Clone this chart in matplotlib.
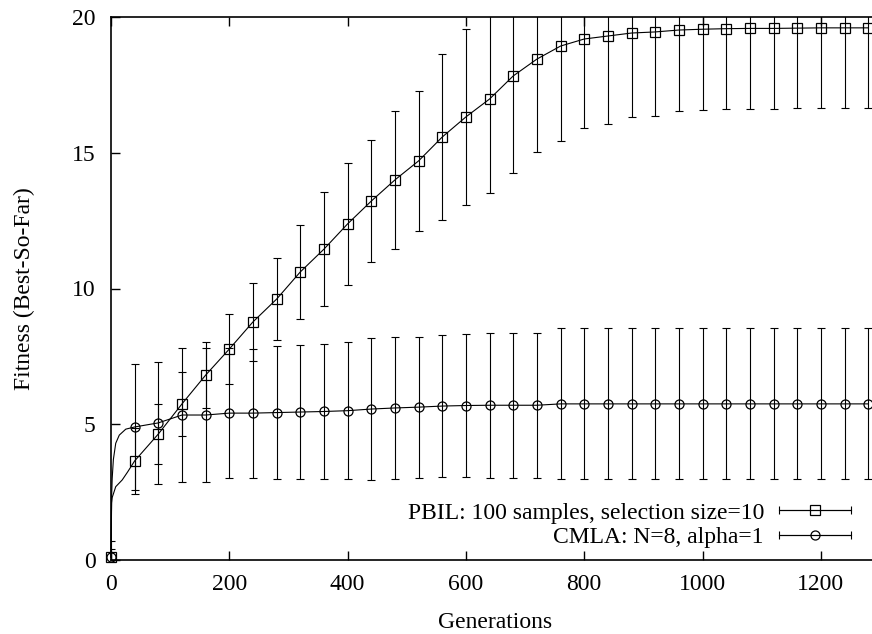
import numpy as np
import matplotlib
matplotlib.use("Agg")
import matplotlib.pyplot as plt
from matplotlib.container import ErrorbarContainer
from matplotlib.lines import Line2D
from matplotlib.collections import LineCollection
from matplotlib.legend_handler import HandlerErrorbar

# ---------------- data ----------------
generations = [0, 40, 80, 120, 160, 200, 240, 280, 320, 360, 400, 440, 480, 520,
               560, 600, 640, 680, 720, 760, 800, 840, 880, 920, 960, 1000, 1040,
               1080, 1120, 1160, 1200, 1240, 1280]

pbil_mean = [0.1, 3.65, 4.64, 5.75, 6.81, 7.77, 8.77, 9.61, 10.61, 11.45, 12.38,
             13.22, 14.0, 14.7, 15.58, 16.32, 16.98, 17.83, 18.45, 18.93, 19.19,
             19.3, 19.41, 19.45, 19.52, 19.55, 19.57, 19.58, 19.58, 19.59, 19.6,
             19.6, 19.6]
pbil_err = [0.6, 1.22, 1.1, 1.18, 1.21, 1.29, 1.44, 1.51, 1.72, 2.09, 2.25, 2.25,
            2.55, 2.57, 3.06, 3.24, 3.48, 3.58, 3.42, 3.5, 3.28, 3.24, 3.09, 3.1,
            2.98, 2.98, 2.97, 2.96, 2.96, 2.96, 2.97, 2.97, 2.97]

cmla_mean = [0.1, 4.9, 5.05, 5.34, 5.34, 5.41, 5.41, 5.43, 5.45, 5.47, 5.5, 5.56,
             5.6, 5.63, 5.67, 5.69, 5.7, 5.7, 5.7, 5.75, 5.75, 5.75, 5.75, 5.75,
             5.75, 5.75, 5.75, 5.75, 5.75, 5.75, 5.75, 5.75, 5.75]
cmla_err = [0.3, 2.32, 2.25, 2.47, 2.47, 2.4, 2.38, 2.45, 2.48, 2.48, 2.52, 2.6,
            2.6, 2.6, 2.6, 2.65, 2.67, 2.67, 2.67, 2.78, 2.78, 2.78, 2.78, 2.78,
            2.78, 2.78, 2.78, 2.78, 2.78, 2.78, 2.78, 2.78, 2.78]

# early part of the per-generation curves
pbil_early_x = [0, 1, 2, 8, 19, 28]
pbil_early_y = [0.1, 2.1, 2.3, 2.7, 2.95, 3.24]
cmla_early_x = [0, 1, 2, 4, 8, 14, 25]
cmla_early_y = [0.1, 2.3, 3.0, 3.7, 4.3, 4.6, 4.82]

pbil_label = "PBIL: 100 samples, selection size=10"
cmla_label = "CMLA: N=8, alpha=1"
x_label = "Generations"
y_label = "Fitness (Best-So-Far)"
x_ticks = [0, 200, 400, 600, 800, 1000, 1200]
y_ticks = [0, 5, 10, 15, 20]

# ---------------- style ----------------
plt.rcParams['font.family'] = ['Liberation Serif', 'DejaVu Serif']
FS = 17

W, H = 872, 634
fig = plt.figure(figsize=(W / 100, H / 100), dpi=100)
ax = fig.add_axes([111 / W, (H - 560) / H, 769 / W, 543 / H])

lw = 0.8
for gx, gy, ex, ey, mean, err, mk in [
        (generations, pbil_mean, pbil_early_x, pbil_early_y, pbil_mean, pbil_err, 's'),
        (generations, cmla_mean, cmla_early_x, cmla_early_y, cmla_mean, cmla_err, 'o')]:
    # continuous curve
    lx = list(ex) + list(gx[1:])
    ly = list(ey) + list(gy[1:])
    ax.plot(lx, ly, color='black', lw=lw, zorder=2, clip_on=False)
    # error bars + markers
    ax.errorbar(gx, mean, yerr=err, fmt='none', ecolor='black', elinewidth=lw,
                capsize=3, capthick=lw, zorder=3)
    ax.plot(gx, mean, linestyle='none', marker=mk, ms=6.5, mfc='none',
            mec='black', mew=0.9, zorder=4, clip_on=False)

ax.set_xlim(0, 1300)
ax.set_ylim(0, 20)
ax.set_xticks(x_ticks)
ax.set_yticks(y_ticks)
ax.tick_params(direction='in', length=6.5, width=1.0, labelsize=FS,
               top=True, right=False)
ax.tick_params(axis='x', pad=10)
ax.tick_params(axis='y', pad=11)
for s in ax.spines.values():
    s.set_linewidth(1.2)

ax.set_xlabel(x_label, fontsize=FS, labelpad=12)
ax.set_ylabel(y_label, fontsize=FS, labelpad=27)

# legend with horizontal error-bar samples (gnuplot style)
def proxy(marker, label):
    line = Line2D([], [], color='black', lw=lw, marker=marker, ms=6.5,
                  mfc='none', mec='black', mew=0.9)
    cap = Line2D([], [], color='black', lw=lw, marker='|', ms=6, mew=lw)
    bar = LineCollection([], colors='black', linewidths=lw)
    return ErrorbarContainer((line, (cap,), (bar,)), has_xerr=True,
                             has_yerr=False, label=label)

handles = [proxy('s', pbil_label), proxy('o', cmla_label)]
hl = 72 / (FS * 100 / 72)
leg = fig.legend(handles=handles, loc='center right',
                 bbox_to_anchor=(851 / W, 1 - 525 / H),
                 bbox_transform=fig.transFigure,
                 frameon=False, fontsize=FS, markerfirst=False,
                 handlelength=hl, handletextpad=0.64, labelspacing=0.12,
                 borderpad=0, borderaxespad=0, numpoints=1,
                 handler_map={ErrorbarContainer: HandlerErrorbar(xerr_size=hl / 2)})

fig.savefig("out.png", dpi=100)
